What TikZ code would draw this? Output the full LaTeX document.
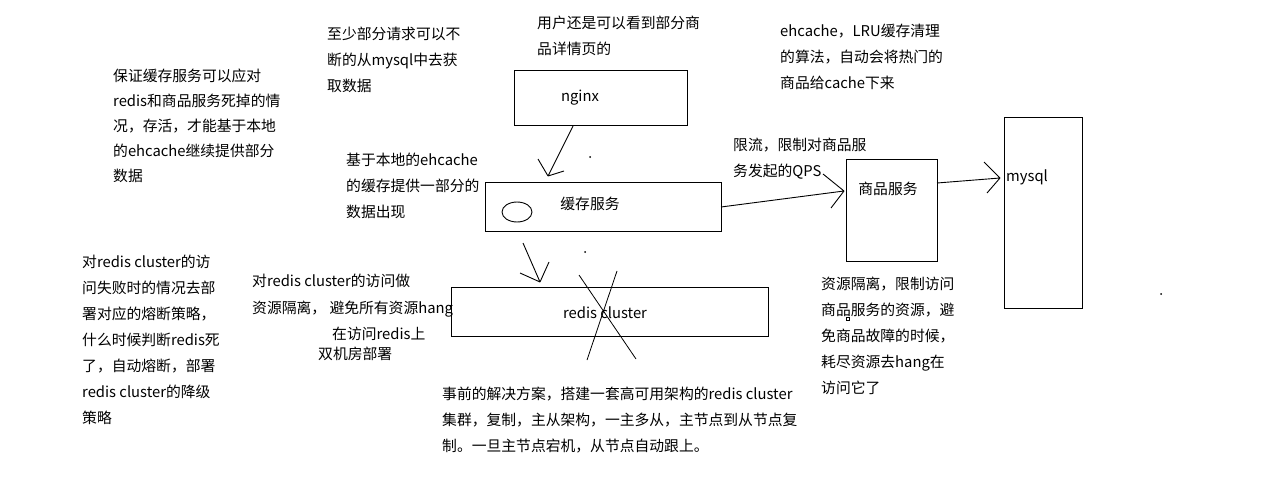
\documentclass[tikz,border=0pt]{standalone}
\usepackage{fontspec}
\newfontfamily\cjk{Noto Sans CJK SC}
\usetikzlibrary{shapes.geometric}
\begin{document}
\begin{tikzpicture}[x=1pt,y=-1pt,
  box/.style={draw, line width=1pt, inner sep=0pt, rectangle},
  note/.style={anchor=north west, inner sep=0pt, align=left, font=\cjk\fontsize{14.8}{26}\selectfont},
  lbl/.style={inner sep=0pt, font=\cjk\fontsize{14.8}{26}\selectfont},
  wire/.style={line width=0.9pt},
  speck/.style={circle, fill, inner sep=0pt, minimum size=2pt}]
\useasboundingbox[fill=white] (0,0) rectangle (1274,500);

% boxes
\node[box, minimum width=173, minimum height=55] (nginx) at (600.5,98.5) {};
\node[box, minimum width=236, minimum height=49] (cache) at (603,206.5) {};
\node[box, minimum width=317, minimum height=49] (redis) at (609.5,311.5) {};
\node[box, minimum width=91, minimum height=102] (goods) at (891.5,210) {};
\node[box, minimum width=78, minimum height=190] (mysql) at (1043,213) {};
\node[draw, line width=0.9pt, ellipse, minimum width=30, minimum height=20, inner sep=0pt] (ehc) at (517,212) {};

% box labels
\node[lbl] (nginxl) at (580,98) {nginx};
\node[lbl] (cachel) at (590,204) {缓存服务};
\node[lbl] (redisl) at (605,313) {redis cluster};
\node[lbl] (goodsl) at (888,189) {商品服务};
\node[lbl, anchor=west] (mysqll) at (1006,177) {mysql};

% arrows
\coordinate (a1s) at (573,126);
\coordinate (a1t) at (548,176);
\draw[wire] (a1s) -- (a1t) (a1t) -- ++(-10,-17) (a1t) -- ++(16,-5);
\coordinate (a2s) at (523,243);
\coordinate (a2t) at (540,282);
\draw[wire] (a2s) -- (a2t) (a2t) -- ++(-20,-9) (a2t) -- ++(9,-20);
\coordinate (a3s) at (721,207);
\coordinate (a3t) at (844,191);
\draw[wire] (a3s) -- (a3t) (a3t) -- ++(-21,-17) (a3t) -- ++(-13,17);
\coordinate (a4s) at (937,183);
\coordinate (a4t) at (1000,178);
\draw[wire] (a4s) -- (a4t) (a4t) -- ++(-16,-16) (a4t) -- ++(-13,15);

% cross over redis cluster
\coordinate (x1a) at (579,275);
\coordinate (x1b) at (636,359);
\coordinate (x2a) at (617,271);
\coordinate (x2b) at (587,360);
\draw[line width=0.8pt] (x1a) -- (x1b) (x2a) -- (x2b);

% stray specks
\node[speck] (s1) at (590,157) {};
\node[speck] (s2) at (585,252) {};
\node[speck] (s3) at (1161,294) {};
\node[draw, line width=0.6pt, inner sep=0pt, minimum size=2.5pt] (s4) at (848,319) {};

% notes
\node[note, font=\cjk\fontsize{14.8}{25}\selectfont] (t1) at (113,69) {保证缓存服务可以应对\\redis和商品服务死掉的情\\况，存活，才能基于本地\\的ehcache继续提供部分\\数据};
\node[note] (t2) at (327,27) {至少部分请求可以不\\断的从mysql中去获\\取数据};
\node[note] (t3) at (537,16) {用户还是可以看到部分商\\品详情页的};
\node[note] (t4) at (780,24) {ehcache，LRU缓存清理\\的算法，自动会将热门的\\商品给cache下来};
\node[note] (t5) at (733,138) {限流，限制对商品服\\务发起的QPS};
\node[note] (t6) at (346,153) {基于本地的ehcache\\的缓存提供一部分的\\数据出现};
\node[note] (t7) at (82,255) {对redis cluster的访\\问失败时的情况去部\\署对应的熔断策略，\\什么时候判断redis死\\了，自动熔断，部署\\redis cluster的降级\\策略};
\node[note, font=\cjk\fontsize{14.8}{27}\selectfont] (t8) at (252,274) {对redis cluster的访问做\\资源隔离，\ 避免所有资源hang};
\node[note] (t9) at (332,327) {在访问redis上};
\node[note] (t10) at (318,347) {双机房部署};
\node[note] (t11) at (442,387) {事前的解决方案，搭建一套高可用架构的redis cluster\\集群，复制，主从架构，一主多从，主节点到从节点复\\制。一旦主节点宕机，从节点自动跟上。};
\node[note] (t12) at (821,277) {资源隔离，限制访问\\商品服务的资源，避\\免商品故障的时候，\\耗尽资源去hang在\\访问它了};
\end{tikzpicture}
\end{document}
